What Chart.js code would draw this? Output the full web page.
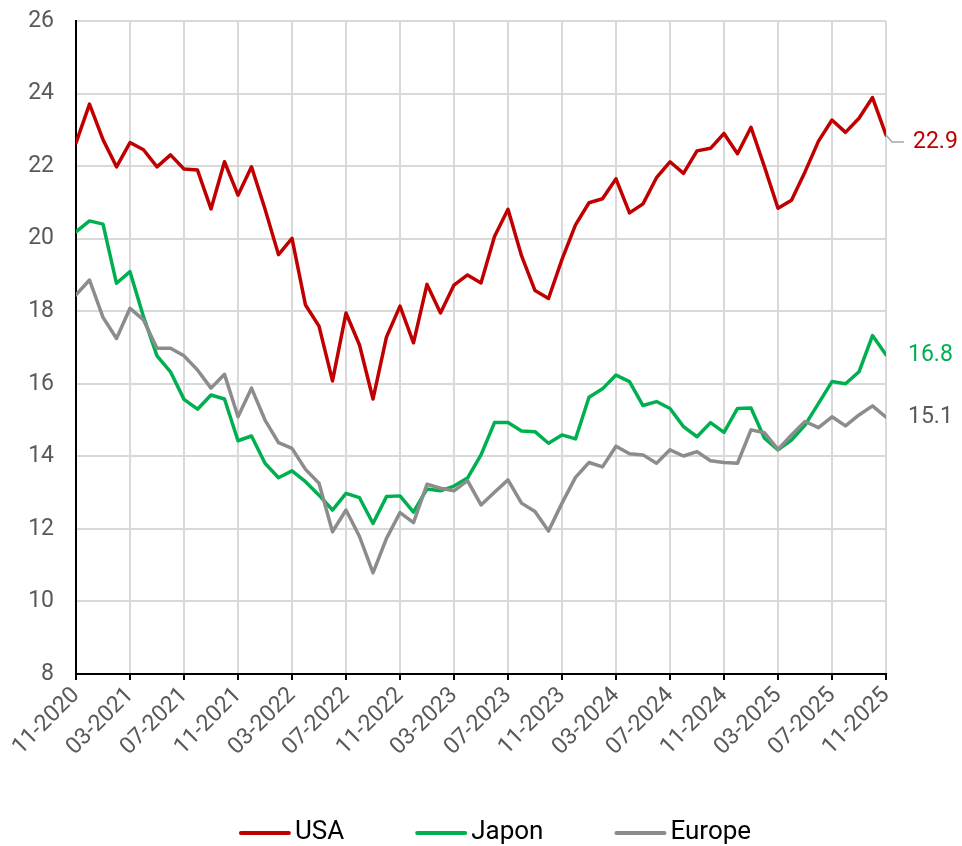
<!DOCTYPE html>
<html>
<head>
<meta charset="utf-8">
<script src="https://cdn.jsdelivr.net/npm/chart.js@4.4.1/dist/chart.umd.min.js"></script>
<style>
  html, body { margin: 0; padding: 0; background: #ffffff; }
  #wrap { width: 962px; height: 846px; position: relative; }
</style>
</head>
<body>
<div id="wrap"><canvas id="c" width="962" height="846"></canvas></div>
<script>
const months = [
  "11-2020","12-2020","01-2021","02-2021","03-2021","04-2021","05-2021","06-2021","07-2021","08-2021","09-2021","10-2021",
  "11-2021","12-2021","01-2022","02-2022","03-2022","04-2022","05-2022","06-2022","07-2022","08-2022","09-2022","10-2022",
  "11-2022","12-2022","01-2023","02-2023","03-2023","04-2023","05-2023","06-2023","07-2023","08-2023","09-2023","10-2023",
  "11-2023","12-2023","01-2024","02-2024","03-2024","04-2024","05-2024","06-2024","07-2024","08-2024","09-2024","10-2024",
  "11-2024","12-2024","01-2025","02-2025","03-2025","04-2025","05-2025","06-2025","07-2025","08-2025","09-2025","10-2025",
  "11-2025"
];

const usa = [
  22.64, 23.71, 22.73, 21.98, 22.65, 22.45, 21.98, 22.31, 21.92, 21.89, 20.82, 22.12,
  21.20, 21.98, 20.82, 19.56, 20.01, 18.17, 17.59, 16.08, 17.95, 17.07, 15.58, 17.29,
  18.14, 17.13, 18.74, 17.95, 18.72, 19.00, 18.78, 20.06, 20.81, 19.53, 18.57, 18.35,
  19.43, 20.38, 20.99, 21.10, 21.65, 20.71, 20.96, 21.68, 22.12, 21.80, 22.42, 22.49,
  22.90, 22.34, 23.07, 21.98, 20.84, 21.06, 21.84, 22.69, 23.27, 22.93, 23.32, 23.89,
  22.86
];

const japon = [
  20.19, 20.49, 20.40, 18.77, 19.09, 17.85, 16.77, 16.33, 15.57, 15.30, 15.69, 15.58,
  14.43, 14.56, 13.81, 13.41, 13.60, 13.30, 12.93, 12.52, 12.98, 12.86, 12.15, 12.89,
  12.91, 12.46, 13.10, 13.05, 13.18, 13.40, 14.04, 14.93, 14.93, 14.70, 14.68, 14.36,
  14.59, 14.48, 15.63, 15.86, 16.24, 16.06, 15.40, 15.51, 15.32, 14.82, 14.54, 14.93,
  14.66, 15.32, 15.33, 14.50, 14.18, 14.45, 14.86, 15.46, 16.06, 16.00, 16.33, 17.33,
  16.80
];

const europe = [
  18.45, 18.86, 17.83, 17.25, 18.08, 17.76, 16.98, 16.98, 16.77, 16.38, 15.88, 16.26,
  15.09, 15.88, 15.00, 14.38, 14.22, 13.64, 13.26, 11.92, 12.52, 11.79, 10.79, 11.74,
  12.45, 12.17, 13.23, 13.12, 13.05, 13.33, 12.66, 13.01, 13.35, 12.71, 12.48, 11.94,
  12.71, 13.42, 13.83, 13.71, 14.28, 14.07, 14.04, 13.81, 14.18, 14.01, 14.13, 13.88,
  13.83, 13.81, 14.73, 14.65, 14.19, 14.59, 14.96, 14.79, 15.09, 14.84, 15.14, 15.39,
  15.08
];

const seriesNames = ["USA", "Japon", "Europe"];
const endLabels = ["22.9", "16.8", "15.1"];

const lineColors = ["#C00000", "#00B050", "#8C8C8C"];
const labelColors = ["#C00000", "#00B050", "#595959"];

Chart.defaults.font.family = "Roboto, 'Noto Sans', sans-serif";

function toPoints(arr) { return arr.map((v, i) => ({ x: i, y: v })); }

const endLabelPlugin = {
  id: 'endLabels',
  afterDatasetsDraw(chart) {
    const ctx = chart.ctx;
    ctx.save();
    ctx.font = "23px Roboto";
    ctx.textBaseline = "middle";
    ctx.textAlign = "left";
    chart.data.datasets.forEach((ds, di) => {
      const meta = chart.getDatasetMeta(di);
      const pt = meta.data[meta.data.length - 1];
      if (!pt) return;
      let x = pt.x + 22, y = pt.y;
      if (di === 0) {
        ctx.strokeStyle = "#A6A6A6";
        ctx.lineWidth = 1.5;
        ctx.beginPath();
        ctx.moveTo(pt.x, pt.y);
        ctx.lineTo(pt.x + 6, pt.y + 7);
        ctx.lineTo(pt.x + 18, pt.y + 7);
        ctx.stroke();
        x = pt.x + 27; y = pt.y + 7;
      }
      ctx.fillStyle = labelColors[di];
      ctx.fillText(endLabels[di], x, y);
    });
    ctx.restore();
  }
};

const legendPlugin = {
  id: 'bottomLegend',
  afterDraw(chart) {
    const ctx = chart.ctx;
    ctx.save();
    ctx.font = "26px Roboto";
    ctx.textBaseline = "middle";
    ctx.textAlign = "left";
    const lineW = 52, gapText = 4, gapItem = 71;
    const items = chart.data.datasets.map((ds, i) => ({
      text: ds.label, color: lineColors[i], w: lineW + gapText + ctx.measureText(ds.label).width
    }));
    const total = items.reduce((s, it) => s + it.w, 0) + gapItem * (items.length - 1);
    let x = chart.width / 2 + 14 - total / 2;
    const y = 833;
    items.forEach(it => {
      ctx.strokeStyle = it.color;
      ctx.lineWidth = 4;
      ctx.lineCap = "round";
      ctx.beginPath();
      ctx.moveTo(x + 2, y);
      ctx.lineTo(x + lineW - 2, y);
      ctx.stroke();
      ctx.fillStyle = "#000000";
      ctx.fillText(it.text, x + lineW + gapText, y - 1);
      x += it.w + gapItem;
    });
    ctx.restore();
  }
};

const seriesData = [usa, japon, europe];
const datasets = seriesNames.map((name, i) => ({
  label: name,
  data: toPoints(seriesData[i]),
  borderColor: lineColors[i],
  backgroundColor: lineColors[i],
  borderWidth: 3.5,
  pointRadius: 0,
  pointHoverRadius: 0,
  tension: 0,
  borderJoinStyle: 'round',
  borderCapStyle: 'round',
  order: 2 - i
}));

new Chart(document.getElementById('c'), {
  type: 'line',
  data: { datasets },
  options: {
    responsive: false,
    animation: false,
    devicePixelRatio: 1,
    layout: { padding: { top: 21, right: 76, left: 0, bottom: 0 } },
    plugins: {
      legend: { display: false },
      tooltip: { enabled: false }
    },
    scales: {
      x: {
        type: 'linear',
        min: 0,
        max: 60,
        afterFit(scale) { scale.height = 172; },
        grid: { color: '#D9D9D9', lineWidth: 2, tickColor: '#000000', tickLength: 6, drawTicks: true },
        border: { color: '#000000', width: 2 },
        ticks: {
          stepSize: 4,
          autoSkip: false,
          minRotation: 45,
          maxRotation: 45,
          padding: 2,
          color: '#595959',
          font: { size: 23 },
          callback: (v) => months[v] !== undefined ? months[v] : ''
        }
      },
      y: {
        min: 8,
        max: 26,
        afterFit(scale) { scale.width = 76; scale.paddingTop = 0; scale.paddingBottom = 0; },
        grid: { color: '#D9D9D9', lineWidth: 2, drawTicks: false },
        border: { color: '#000000', width: 2 },
        ticks: { stepSize: 2, padding: 22, color: '#595959', font: { size: 23 } }
      }
    }
  },
  plugins: [endLabelPlugin, legendPlugin]
});
</script>
</body>
</html>
